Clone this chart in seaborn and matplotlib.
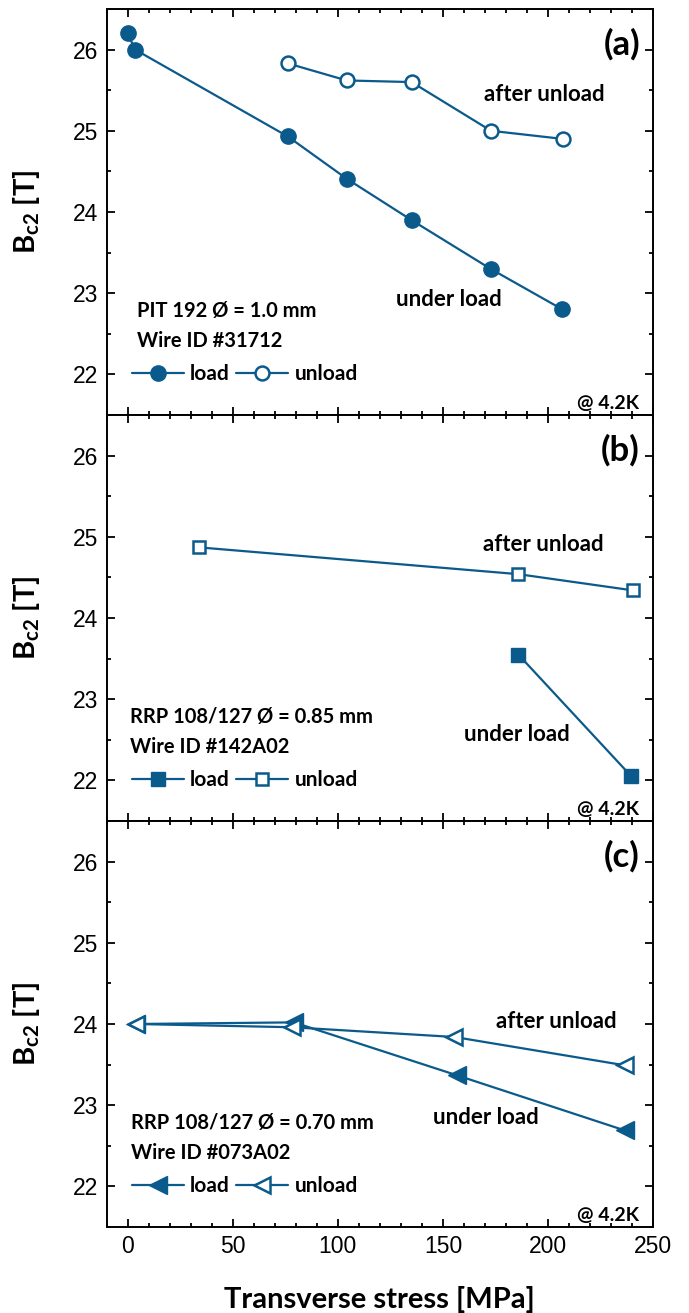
import matplotlib
matplotlib.use("Agg")
import matplotlib.pyplot as plt
from matplotlib.ticker import MultipleLocator
import seaborn as sns

# (a) PIT 192, circles
a_load_x = [0, 3.5, 76.2, 104.2, 135.1, 172.7, 206.9]
a_load_y = [26.2, 26.0, 24.93, 24.41, 23.90, 23.30, 22.80]
a_unload_x = [76.2, 104.2, 135.1, 172.9, 207.1]
a_unload_y = [25.83, 25.62, 25.60, 25.00, 24.90]

# (b) RRP 0.85 mm, squares
b_load_x = [185.9, 239.7]
b_load_y = [23.55, 22.05]
b_unload_x = [33.9, 185.9, 240.5]
b_unload_y = [24.87, 24.54, 24.34]

# (c) RRP 0.70 mm, triangles
c_load_x = [4.0, 79.1, 156.5, 236.5]
c_load_y = [24.0, 24.02, 23.37, 22.69]
c_unload_x = [4.0, 78.3, 155.5, 236.9]
c_unload_y = [24.0, 23.96, 23.84, 23.49]

panel_tags = ["(a)", "(b)", "(c)"]
wire_names = ["PIT 192 Ø = 1.0 mm", "RRP 108/127 Ø = 0.85 mm", "RRP 108/127 Ø = 0.70 mm"]
wire_ids = ["Wire ID #31712", "Wire ID #142A02", "Wire ID #073A02"]
markers = ["o", "s", "<"]
after_pos = [(198.5, 25.37), (197.6, 24.82), (203.8, 23.95)]
under_pos = [(153, 22.84), (185.2, 22.48), (170.3, 22.77)]
name_x = [4.4, 1.2, 1.8]

blue = "#0b5a8c"

sns.set_style("ticks")
plt.rcParams["font.family"] = ["Lato", "DejaVu Sans"]
plt.rcParams["mathtext.fontset"] = "custom"
plt.rcParams["mathtext.rm"] = "Lato:bold"
plt.rcParams["mathtext.bf"] = "Lato:bold"
plt.rcParams["axes.linewidth"] = 1.4
for key in ["text.color", "axes.labelcolor", "xtick.color", "ytick.color", "axes.edgecolor"]:
    plt.rcParams[key] = "black"

fig, axes = plt.subplots(3, 1, figsize=(6.89, 13.13), dpi=100, sharex=True)
fig.subplots_adjust(left=106.7 / 689, right=653 / 689, top=1 - 9 / 1313,
                    bottom=1 - 1227 / 1313, hspace=0)

series = [
    (a_load_x, a_load_y, a_unload_x, a_unload_y),
    (b_load_x, b_load_y, b_unload_x, b_unload_y),
    (c_load_x, c_load_y, c_unload_x, c_unload_y),
]
msize = [11, 9.5, 12.5]
bold = dict(fontweight="bold", family="Lato", color="black")

for i, ax in enumerate(axes):
    lx, ly, ux, uy = series[i]
    m = markers[i]
    sns.lineplot(x=lx, y=ly, ax=ax, color=blue, marker=m, markersize=msize[i],
                 markeredgecolor=blue, markerfacecolor=blue, markeredgewidth=1,
                 linewidth=1.6, label="load", zorder=3)
    sns.lineplot(x=ux, y=uy, ax=ax, color=blue, marker=m, markersize=msize[i] - 1,
                 markeredgecolor=blue, markerfacecolor="white", markeredgewidth=1.8,
                 linewidth=1.6, label="unload", zorder=4)

    ax.set_xlim(-10, 250)
    ax.set_ylim(21.5, 26.5)
    ax.xaxis.set_major_locator(MultipleLocator(50))
    ax.xaxis.set_minor_locator(MultipleLocator(10))
    ax.yaxis.set_major_locator(MultipleLocator(1))
    ax.yaxis.set_minor_locator(MultipleLocator(0.5))
    ax.tick_params(which="both", direction="in", top=True, right=True, width=1.3,
                   colors="black")
    ax.tick_params(which="major", length=5.8, pad=6, labelsize=16.5)
    ax.tick_params(which="minor", length=3)
    for lab in ax.get_xticklabels() + ax.get_yticklabels():
        lab.set_family("Liberation Sans")

    ax.set_ylabel(r"B$_{\mathbf{c2}}$ [T]", fontsize=21, **bold)
    ax.yaxis.set_label_coords(-0.118, 0.5)

    ax.text(243.8, 26.07, panel_tags[i], ha="right", va="center", fontsize=25, **bold)
    ax.text(after_pos[i][0], after_pos[i][1], "after unload", ha="center",
            va="baseline", fontsize=16, **bold)
    ax.text(under_pos[i][0], under_pos[i][1], "under load", ha="center",
            va="baseline", fontsize=16, **bold)
    ax.text(name_x[i], 22.71, wire_names[i], ha="left", va="baseline", fontsize=14.5, **bold)
    ax.text(name_x[i], 22.34, wire_ids[i], ha="left", va="baseline", fontsize=14.5, **bold)
    ax.text(243.5, 21.58, "@ 4.2K", ha="right", va="baseline", fontsize=14, **bold)

    ax.legend(loc="center left", bbox_to_anchor=(0.046, 0.1), ncol=2, frameon=False,
              borderpad=0, borderaxespad=0, handlelength=2.5, handletextpad=0.3,
              columnspacing=0.3, prop=dict(family="Lato", weight="bold", size=15))

axes[2].set_xlabel("Transverse stress [MPa]", fontsize=21, labelpad=20, **bold)

fig.savefig("out.png", dpi=100)
